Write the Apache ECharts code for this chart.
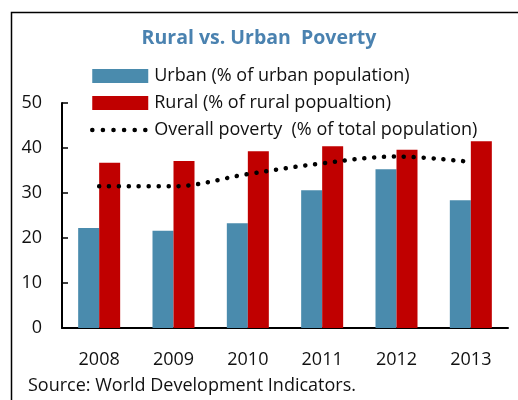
<!DOCTYPE html>
<html>
<head>
<meta charset="utf-8">
<style>
  html, body { margin: 0; padding: 0; background: #ffffff; }
  #chart { width: 518px; height: 400px; }
</style>
<script src="https://cdn.jsdelivr.net/npm/echarts@6/dist/echarts.min.js"></script>
</head>
<body>
<div id="chart"></div>
<script>
// Poverty headcount by year, percent of each population group
const years = ['2008', '2009', '2010', '2011', '2012', '2013'];
const urban = [22.2, 21.6, 23.3, 30.6, 35.3, 28.4];
const rural = [36.7, 37.1, 39.3, 40.4, 39.6, 41.5];
const overall = [31.5, 31.5, 34.2, 36.6, 38.1, 36.9];
const yTicks = [0, 10, 20, 30, 40, 50];

const FONT = '"Open Sans"';
const BODY = 18;
const DOTS = { color: '#000000', width: 4.5, type: [0.1, 9.8], cap: 'round' };
const chart = echarts.init(document.getElementById('chart'), null, { renderer: 'canvas' });

chart.setOption({
  backgroundColor: '#ffffff',
  animation: false,
  textStyle: { fontFamily: FONT },
  title: {
    text: 'Rural vs. Urban  Poverty',
    left: 'center',
    top: 23,
    textStyle: { fontFamily: FONT, fontSize: 19.5, fontWeight: 'bold', color: '#4a82b0' }
  },
  legend: {
    orient: 'vertical',
    left: 90,
    top: 67,
    padding: 0,
    itemWidth: 56,
    itemHeight: 14,
    itemGap: 9,
    textStyle: { fontFamily: FONT, fontSize: BODY, color: '#111111', lineHeight: 14, padding: [0, 0, 0, 1] },
    data: [
      { name: 'Urban (% of urban population)', icon: 'rect' },
      { name: 'Rural (% of rural popualtion)', icon: 'rect' },
      {
        name: 'Overall poverty  (% of total population)',
        icon: 'inherit',
        itemStyle: { color: 'rgba(0,0,0,0)' },
        lineStyle: { color: '#000000', width: 4.5, type: [0.1, 10.5], cap: 'round' }
      }
    ]
  },
  grid: { left: 62, right: 10, top: 103, bottom: 72 },
  xAxis: {
    type: 'category',
    data: years,
    axisLine: { lineStyle: { color: '#000000', width: 2 } },
    axisTick: { inside: true, length: 6, lineStyle: { color: '#000000', width: 1.5 } },
    axisLabel: { fontFamily: FONT, fontSize: BODY, color: '#111111', margin: 23 }
  },
  yAxis: {
    type: 'value',
    min: yTicks[0],
    max: yTicks[yTicks.length - 1],
    interval: 10,
    axisLine: { show: true, lineStyle: { color: '#000000', width: 2 } },
    axisTick: { show: true, inside: true, length: 6, lineStyle: { color: '#000000', width: 1.5 } },
    splitLine: { show: false },
    axisLabel: { fontFamily: FONT, fontSize: BODY, color: '#111111', margin: 20 }
  },
  series: [
    {
      name: 'Urban (% of urban population)',
      type: 'bar',
      data: urban,
      barWidth: 21,
      barGap: '0%',
      itemStyle: { color: '#4a8bad' }
    },
    {
      name: 'Rural (% of rural popualtion)',
      type: 'bar',
      data: rural,
      barWidth: 21,
      barGap: '0%',
      itemStyle: { color: '#c00000' }
    },
    {
      name: 'Overall poverty  (% of total population)',
      type: 'line',
      data: overall,
      smooth: 0.35,
      symbol: 'none',
      z: 5,
      itemStyle: { color: '#000000' },
      lineStyle: DOTS
    }
  ],
  graphic: [
    {
      type: 'rect',
      shape: { x: 11.5, y: 12.5, width: 540, height: 420 },
      style: { fill: 'none', stroke: '#000000', lineWidth: 1.5 },
      silent: true
    },
    {
      type: 'text',
      left: 28,
      top: 377,
      style: { text: 'Source: World Development Indicators.', fontFamily: FONT, fontSize: BODY, fill: '#111111' }
    }
  ]
});
</script>
</body>
</html>
